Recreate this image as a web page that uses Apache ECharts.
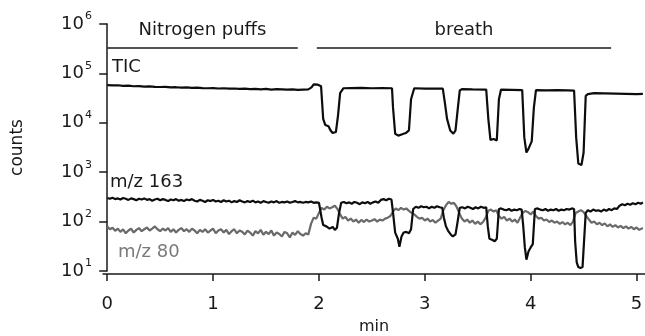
<!DOCTYPE html>
<html>
<head>
<meta charset="utf-8">
<script src="https://cdn.jsdelivr.net/npm/echarts@6/dist/echarts.min.js"></script>
<style>
    html, body {margin: 0; padding: 0; background: #fff;}
    #chart {width: 645px; height: 336px;}
</style>
</head>
<body>
<div id="chart"></div>
<script>
// time (min), counts
var ticData = [
    [0.00, 58000], [0.05, 57000], [0.10, 57500], [0.15, 56000], [0.20, 56500], [0.25, 55000], [0.30, 55500],
    [0.35, 54000], [0.40, 54500], [0.45, 53500], [0.50, 53000], [0.55, 53500], [0.60, 52000], [0.65, 52500],
    [0.70, 51500], [0.75, 52000], [0.80, 51000], [0.85, 51500], [0.90, 50500], [0.95, 50000], [1.00, 50500],
    [1.05, 49500], [1.10, 50000], [1.15, 49000], [1.20, 49500], [1.25, 48500], [1.30, 49000], [1.35, 48000],
    [1.40, 48500], [1.45, 47500], [1.50, 48500], [1.55, 47000], [1.60, 48000], [1.65, 47500], [1.70, 47000],
    [1.75, 47500], [1.80, 46500], [1.85, 47000], [1.90, 47500], [1.93, 52000], [1.95, 60000], [1.99, 59000],
    [2.02, 55000], [2.04, 12000], [2.06, 9000], [2.09, 8500], [2.11, 7000], [2.13, 6200], [2.16, 6500],
    [2.18, 14000], [2.20, 40000], [2.23, 50000], [2.30, 50500], [2.40, 51000], [2.50, 50000], [2.60, 50500],
    [2.69, 50000], [2.70, 20000], [2.72, 6000], [2.75, 5500], [2.78, 5800], [2.82, 6200], [2.85, 7000],
    [2.87, 30000], [2.90, 50000], [3.00, 49000], [3.10, 49500], [3.17, 49000], [3.19, 25000], [3.21, 12000],
    [3.24, 7000], [3.27, 6000], [3.29, 7000], [3.31, 18000], [3.33, 45000], [3.35, 48000], [3.45, 47500],
    [3.58, 47000], [3.60, 12000], [3.62, 4500], [3.65, 4700], [3.68, 4400], [3.70, 30000], [3.72, 47000],
    [3.82, 46500], [3.92, 46000], [3.94, 5000], [3.96, 2500], [3.98, 3000], [4.01, 4200], [4.03, 20000],
    [4.05, 46000], [4.15, 45500], [4.25, 46000], [4.35, 45500], [4.41, 45000], [4.43, 5000], [4.45, 1500],
    [4.48, 1400], [4.50, 2500], [4.52, 35000], [4.54, 38000], [4.60, 40000], [4.70, 39500], [4.80, 39000],
    [4.90, 38500], [5.00, 38000], [5.06, 38500]
];

var mz163Data = [
    [0.000, 300], [0.025, 290], [0.050, 305], [0.075, 285], [0.100, 295], [0.125, 280], [0.150, 300],
    [0.175, 290], [0.200, 275], [0.225, 295], [0.250, 285], [0.275, 270], [0.300, 290], [0.325, 280],
    [0.350, 295], [0.375, 275], [0.400, 285], [0.425, 265], [0.450, 280], [0.475, 290], [0.500, 270],
    [0.525, 285], [0.550, 275], [0.575, 260], [0.600, 280], [0.625, 270], [0.650, 285], [0.675, 265],
    [0.700, 275], [0.725, 260], [0.750, 280], [0.775, 270], [0.800, 285], [0.825, 265], [0.850, 255],
    [0.875, 275], [0.900, 265], [0.925, 250], [0.950, 270], [0.975, 260], [1.000, 275], [1.025, 255],
    [1.050, 265], [1.075, 250], [1.100, 270], [1.125, 255], [1.150, 265], [1.175, 245], [1.200, 260],
    [1.225, 250], [1.250, 270], [1.275, 255], [1.300, 245], [1.325, 260], [1.350, 250], [1.375, 265],
    [1.400, 245], [1.425, 255], [1.450, 240], [1.475, 260], [1.500, 250], [1.525, 240], [1.550, 255],
    [1.575, 245], [1.600, 260], [1.625, 240], [1.650, 250], [1.675, 245], [1.700, 255], [1.725, 240],
    [1.750, 250], [1.775, 260], [1.800, 245], [1.825, 250], [1.850, 240], [1.875, 250], [1.900, 245],
    [1.925, 255], [1.950, 240], [1.975, 245], [2.000, 240],
    [2.025, 120], [2.040, 85], [2.070, 80], [2.100, 72], [2.130, 78], [2.150, 68], [2.170, 75], [2.190, 150],
    [2.210, 240], [2.235, 250], [2.260, 235], [2.285, 245], [2.310, 230], [2.335, 250], [2.360, 240],
    [2.385, 225], [2.410, 245], [2.435, 235], [2.460, 250], [2.485, 230], [2.510, 245], [2.535, 255],
    [2.560, 240], [2.585, 275], [2.610, 285], [2.635, 270], [2.660, 290], [2.685, 280],
    [2.700, 150], [2.720, 60], [2.745, 45], [2.760, 31], [2.780, 50], [2.800, 60], [2.825, 62], [2.850, 58],
    [2.870, 70], [2.890, 180], [2.915, 200], [2.940, 190], [2.965, 205], [2.990, 195], [3.015, 200],
    [3.040, 185], [3.065, 200], [3.090, 190], [3.115, 205], [3.140, 195], [3.165, 190],
    [3.180, 120], [3.200, 80], [3.220, 65], [3.245, 55], [3.265, 50], [3.290, 55], [3.310, 100], [3.330, 190],
    [3.355, 195], [3.380, 185], [3.405, 200], [3.430, 190], [3.455, 180], [3.480, 195], [3.505, 185],
    [3.530, 200], [3.555, 190], [3.580, 195],
    [3.595, 80], [3.610, 45], [3.635, 43], [3.660, 40], [3.680, 45], [3.700, 180], [3.720, 185], [3.745, 175],
    [3.770, 170], [3.795, 180], [3.820, 165], [3.845, 175], [3.870, 170], [3.895, 180], [3.915, 175],
    [3.930, 80], [3.945, 30], [3.960, 17], [3.980, 25], [4.000, 30], [4.020, 35], [4.040, 180], [4.065, 185],
    [4.090, 175], [4.115, 170], [4.140, 180], [4.165, 165], [4.190, 175], [4.215, 170], [4.240, 180],
    [4.265, 165], [4.290, 175], [4.315, 170], [4.340, 180], [4.365, 175], [4.390, 185], [4.410, 180],
    [4.420, 40], [4.435, 15], [4.450, 12], [4.470, 11.5], [4.490, 12], [4.505, 13], [4.520, 150], [4.540, 170],
    [4.565, 160], [4.590, 175], [4.615, 165], [4.640, 170], [4.665, 160], [4.690, 175], [4.715, 165],
    [4.740, 180], [4.765, 170], [4.790, 185], [4.815, 180], [4.840, 210], [4.865, 225], [4.890, 215],
    [4.915, 230], [4.940, 220], [4.965, 235], [4.990, 225], [5.015, 240], [5.040, 230], [5.060, 245]
];

var mz80Data = [
    [0.000, 80], [0.025, 70], [0.050, 75], [0.075, 65], [0.100, 72], [0.125, 62], [0.150, 70], [0.175, 58],
    [0.200, 66], [0.225, 72], [0.250, 60], [0.275, 68], [0.300, 74], [0.325, 64], [0.350, 70], [0.375, 76],
    [0.400, 66], [0.425, 72], [0.450, 80], [0.475, 70], [0.500, 64], [0.525, 72], [0.550, 66], [0.575, 74],
    [0.600, 62], [0.625, 70], [0.650, 60], [0.675, 68], [0.700, 74], [0.725, 64], [0.750, 70], [0.775, 62],
    [0.800, 72], [0.825, 66], [0.850, 58], [0.875, 68], [0.900, 62], [0.925, 70], [0.950, 60], [0.975, 66],
    [1.000, 72], [1.025, 58], [1.050, 66], [1.075, 70], [1.100, 60], [1.125, 68], [1.150, 56], [1.175, 64],
    [1.200, 70], [1.225, 58], [1.250, 66], [1.275, 62], [1.300, 55], [1.325, 66], [1.350, 60], [1.375, 52],
    [1.400, 64], [1.425, 58], [1.450, 68], [1.475, 54], [1.500, 62], [1.525, 56], [1.550, 66], [1.575, 52],
    [1.600, 60], [1.625, 56], [1.650, 50], [1.675, 62], [1.700, 58], [1.725, 48], [1.750, 60], [1.775, 54],
    [1.800, 64], [1.825, 56], [1.850, 52], [1.875, 58], [1.900, 55],
    [1.925, 90], [1.950, 120], [1.975, 115], [2.000, 150], [2.025, 190], [2.050, 175], [2.075, 200],
    [2.100, 185], [2.125, 195], [2.150, 210], [2.175, 180], [2.200, 140], [2.225, 115], [2.250, 125],
    [2.275, 105], [2.300, 115], [2.325, 100], [2.350, 110], [2.375, 95], [2.400, 108], [2.425, 98],
    [2.450, 110], [2.475, 100], [2.500, 105], [2.525, 112], [2.550, 100], [2.575, 110], [2.600, 105],
    [2.625, 115], [2.650, 120], [2.675, 130], [2.700, 160], [2.725, 185], [2.750, 170], [2.775, 190],
    [2.800, 175], [2.825, 185], [2.850, 165], [2.875, 150], [2.900, 140], [2.925, 125], [2.950, 115],
    [2.975, 120], [3.000, 105], [3.025, 115], [3.050, 100], [3.075, 108], [3.100, 95], [3.125, 105],
    [3.150, 115], [3.175, 170], [3.200, 215], [3.225, 250], [3.250, 230], [3.275, 240], [3.300, 200],
    [3.325, 150], [3.350, 115], [3.375, 100], [3.400, 110], [3.425, 95], [3.450, 105], [3.475, 90],
    [3.500, 100], [3.525, 88], [3.550, 98], [3.575, 120], [3.600, 165], [3.625, 175], [3.650, 160],
    [3.675, 170], [3.700, 130], [3.725, 115], [3.750, 125], [3.775, 105], [3.800, 115], [3.825, 100],
    [3.850, 110], [3.875, 95], [3.900, 120], [3.925, 150], [3.950, 165], [3.975, 155], [4.000, 140],
    [4.025, 160], [4.050, 130], [4.075, 115], [4.100, 120], [4.125, 105], [4.150, 110], [4.175, 98],
    [4.200, 105], [4.225, 95], [4.250, 100], [4.275, 90], [4.300, 98], [4.325, 88], [4.350, 95],
    [4.375, 85], [4.400, 100], [4.425, 150], [4.450, 160], [4.475, 170], [4.500, 155], [4.525, 130],
    [4.550, 110], [4.575, 95], [4.600, 100], [4.625, 88], [4.650, 95], [4.675, 85], [4.700, 92],
    [4.725, 80], [4.750, 88], [4.775, 78], [4.800, 85], [4.825, 76], [4.850, 82], [4.875, 74],
    [4.900, 80], [4.925, 72], [4.950, 78], [4.975, 70], [5.000, 76], [5.025, 68], [5.060, 74]
];

var xTicks = [0, 1, 2, 3, 4, 5];
// label, start, end (min), height (counts)
var periodNames = ['Nitrogen puffs', 'breath'];
var periodStart = [0.0, 1.98];
var periodEnd = [1.80, 4.76];
var periodLevel = 3.3e5;

var FONT = 'DejaVu Sans';

function createTraceChart(id) {
    var chart = echarts.init(document.getElementById(id));

    var periodLines = [];
    for (var i = 0; i < periodNames.length; i++) {
        periodLines.push([
            {coord: [periodStart[i], periodLevel], name: periodNames[i]},
            {coord: [periodEnd[i], periodLevel]}
        ]);
    }

    var option = {
        animation: false,
        backgroundColor: '#fff',
        textStyle: {fontFamily: FONT},
        grid: {left: 103, right: 0, top: 24, bottom: 65, containLabel: false, outerBoundsMode: 'none'},
        xAxis: {
            type: 'value',
            min: -0.04,
            max: 5.08,
            offset: 3,
            name: 'min',
            nameLocation: 'middle',
            nameGap: 45,
            nameTextStyle: {fontSize: 16, color: '#1a1a1a', fontFamily: FONT},
            axisLine: {lineStyle: {color: '#1a1a1a', width: 1.5}},
            axisTick: {customValues: xTicks, length: 7, lineStyle: {color: '#1a1a1a', width: 1.5}},
            axisLabel: {customValues: xTicks, margin: 21, fontSize: 18, color: '#1a1a1a', fontFamily: FONT},
            splitLine: {show: false}
        },
        yAxis: {
            type: 'log',
            logBase: 10,
            min: 10,
            max: 1e6,
            name: 'counts',
            nameLocation: 'middle',
            nameRotate: 90,
            nameGap: 77,
            nameTextStyle: {fontSize: 17, color: '#1a1a1a', fontFamily: FONT},
            axisLine: {lineStyle: {color: '#1a1a1a', width: 1.5}},
            axisTick: {length: 8, lineStyle: {color: '#1a1a1a', width: 1.5}},
            axisLabel: {
                margin: 11,
                color: '#1a1a1a',
                formatter: function (v) {
                    return '{a|10}{b|' + Math.round(Math.log10(v)) + '}';
                },
                rich: {
                    a: {fontSize: 18, lineHeight: 18, verticalAlign: 'bottom', color: '#1a1a1a', fontFamily: FONT},
                    b: {fontSize: 11, lineHeight: 11, verticalAlign: 'bottom', padding: [0, 0, 11, 1], color: '#1a1a1a', fontFamily: FONT}
                }
            },
            splitLine: {show: false}
        },
        graphic: [
            {type: 'text', left: 112, top: 58, style: {text: 'TIC', fontSize: 18, fill: '#1a1a1a', fontFamily: FONT}},
            {type: 'text', left: 110, top: 173, style: {text: 'm/z 163', fontSize: 18, fill: '#1a1a1a', fontFamily: FONT}},
            {type: 'text', left: 118, top: 243, style: {text: 'm/z 80', fontSize: 18, fill: '#7a7a7a', fontFamily: FONT}}
        ],
        series: [{
            name: 'm/z 80',
            type: 'line',
            data: mz80Data,
            showSymbol: false,
            lineStyle: {color: '#6a6a6a', width: 2.2},
            z: 2
        }, {
            name: 'm/z 163',
            type: 'line',
            data: mz163Data,
            showSymbol: false,
            lineStyle: {color: '#0d0d0d', width: 2.2},
            z: 3
        }, {
            name: 'TIC',
            type: 'line',
            data: ticData,
            showSymbol: false,
            lineStyle: {color: '#0d0d0d', width: 2.2},
            z: 4,
            markLine: {
                silent: true,
                symbol: 'none',
                lineStyle: {color: '#1a1a1a', width: 1.5, type: 'solid'},
                label: {
                    show: true,
                    position: 'insideMiddleTop',
                    distance: 8,
                    formatter: '{b}',
                    fontSize: 18,
                    color: '#1a1a1a',
                    fontFamily: FONT
                },
                data: periodLines
            }
        }]
    };
    chart.setOption(option);
    return chart;
}

createTraceChart('chart');
</script>
</body>
</html>
